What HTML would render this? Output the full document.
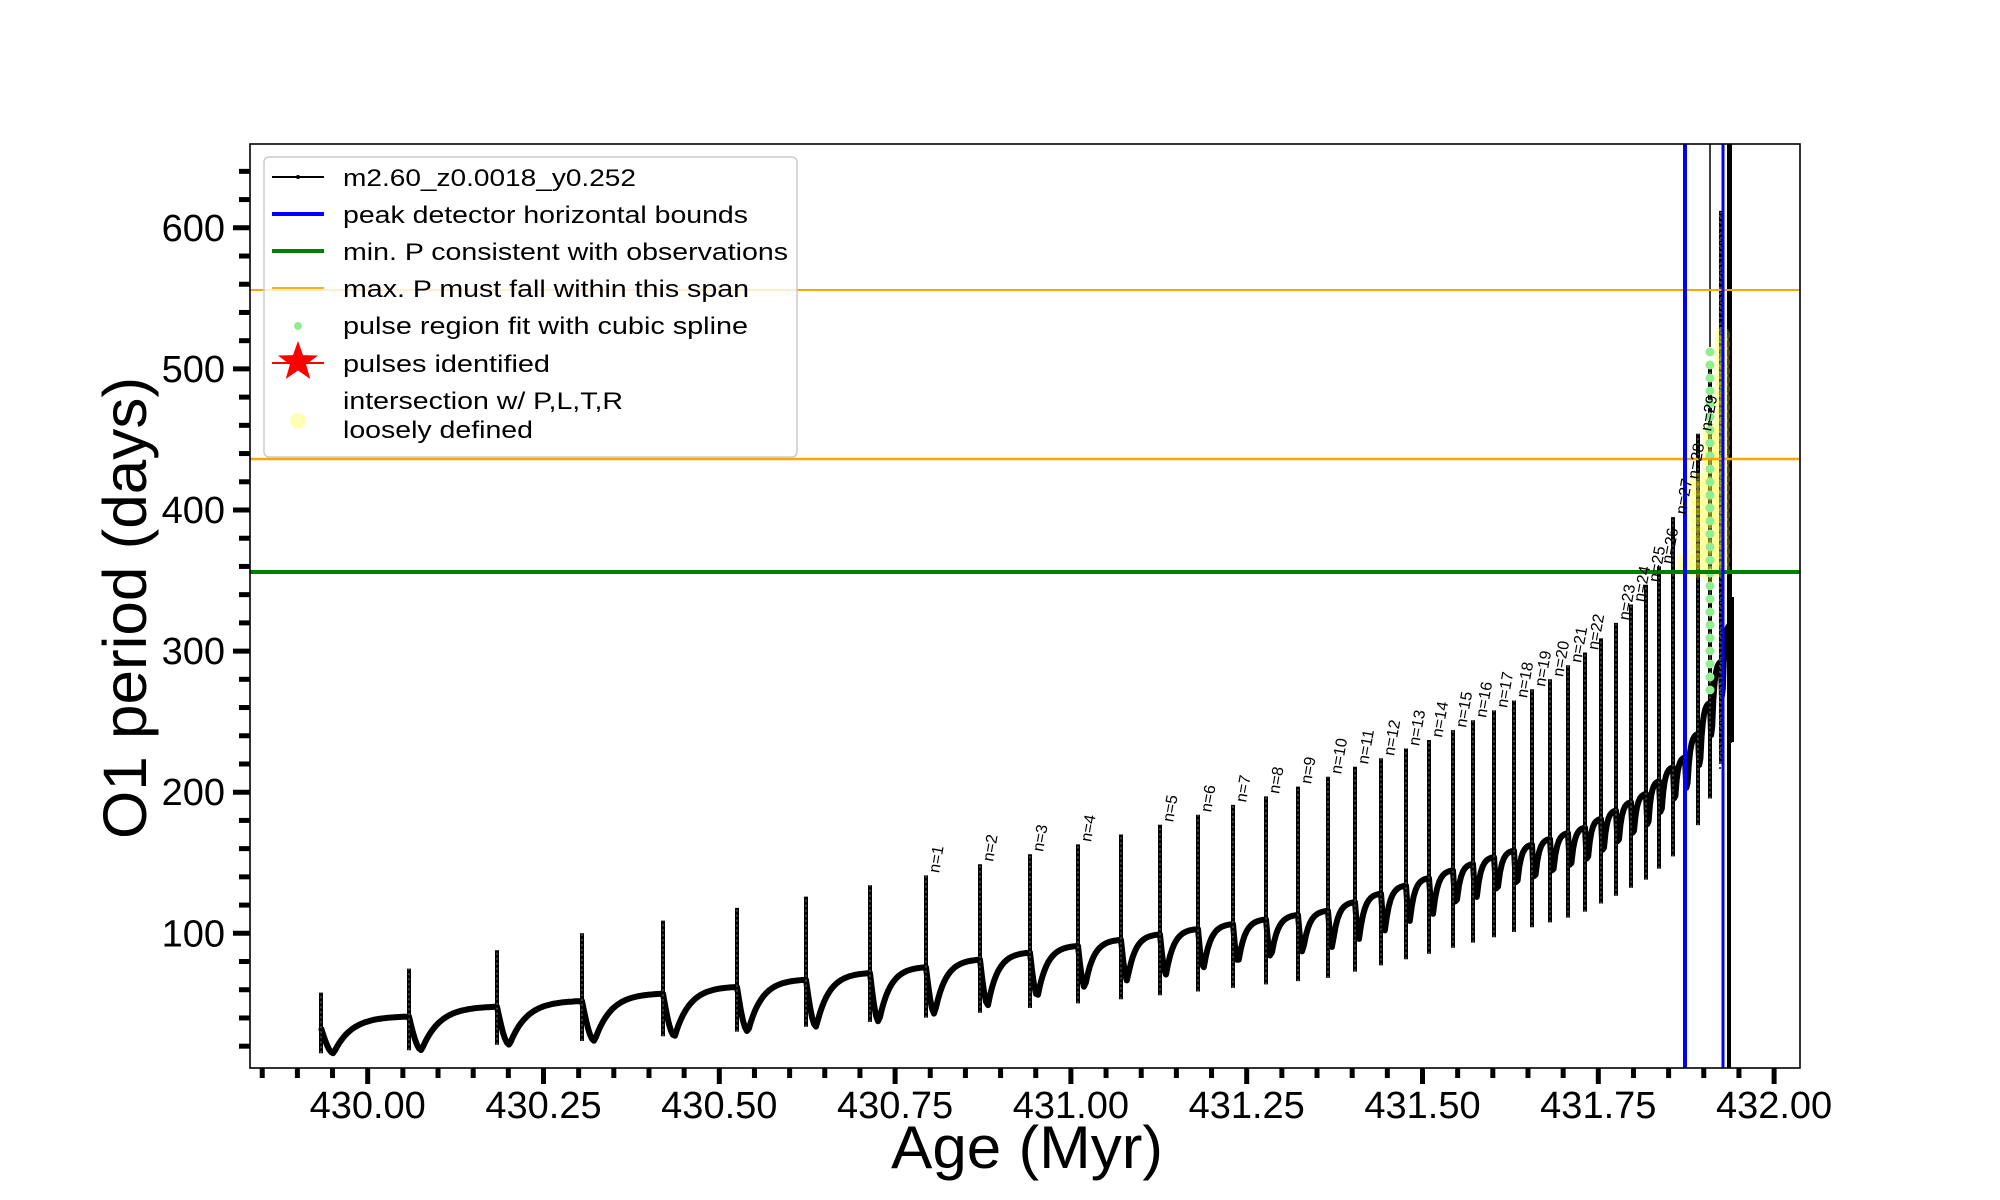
<!DOCTYPE html>
<html><head><meta charset="utf-8">
<style>
html,body{margin:0;padding:0;background:#fff;}
svg{display:block;}
text{font-family:"Liberation Sans","DejaVu Sans",sans-serif;fill:#000;}
</style></head>
<body>
<svg id="s" width="2000" height="1200" viewBox="0 0 2000 1200" xmlns="http://www.w3.org/2000/svg">
<defs><clipPath id="ax"><rect x="250" y="144" width="1550" height="924"/></clipPath></defs>
<rect width="2000" height="1200" fill="#fff"/>
<g id="plot" clip-path="url(#ax)"></g>
<g id="ticks"></g>
<rect x="250" y="144" width="1550" height="924" fill="none" stroke="#000" stroke-width="1.6"/>
<!-- legend -->
<rect x="264" y="157" width="533" height="300" rx="5" fill="#fff" fill-opacity="0.8" stroke="#ccc" stroke-width="1.5"/>
<line x1="272" y1="177" x2="324" y2="177" stroke="#000" stroke-width="2"/>
<circle cx="298" cy="177" r="2" fill="#000"/>
<line x1="272" y1="214" x2="324" y2="214" stroke="#0000ff" stroke-width="4"/>
<line x1="272" y1="251" x2="324" y2="251" stroke="#008000" stroke-width="4"/>
<line x1="272" y1="288" x2="324" y2="288" stroke="#ffa500" stroke-width="1.8"/>
<circle cx="298" cy="326" r="4" fill="#90ee90"/>
<line x1="272" y1="363" x2="324" y2="363" stroke="#ff0000" stroke-width="2"/>
<polygon id="star" fill="#ff0000" points=""/>
<circle cx="298" cy="421" r="8" fill="#ffffb3"/>
<text x="343" y="186" font-size="24" textLength="293" lengthAdjust="spacingAndGlyphs">m2.60_z0.0018_y0.252</text>
<text x="343" y="223" font-size="24" textLength="405" lengthAdjust="spacingAndGlyphs">peak detector horizontal bounds</text>
<text x="343" y="260" font-size="24" textLength="445" lengthAdjust="spacingAndGlyphs">min. P consistent with observations</text>
<text x="343" y="297" font-size="24" textLength="406" lengthAdjust="spacingAndGlyphs">max. P must fall within this span</text>
<text x="343" y="334" font-size="24" textLength="405" lengthAdjust="spacingAndGlyphs">pulse region fit with cubic spline</text>
<text x="343" y="372" font-size="24" textLength="207" lengthAdjust="spacingAndGlyphs">pulses identified</text>
<text x="343" y="409" font-size="24" textLength="280" lengthAdjust="spacingAndGlyphs">intersection w/ P,L,T,R</text>
<text x="343" y="438" font-size="24" textLength="190" lengthAdjust="spacingAndGlyphs">loosely defined</text>
<!-- axis labels -->
<text x="1027" y="1168" font-size="60" text-anchor="middle" textLength="272" lengthAdjust="spacingAndGlyphs">Age (Myr)</text>
<text transform="translate(146,608) rotate(-90)" font-size="61" text-anchor="middle" textLength="462" lengthAdjust="spacingAndGlyphs">O1 period (days)</text>
</svg>
<script>
(function(){
var NS="http://www.w3.org/2000/svg";
function el(p,t,a,txt){var e=document.createElementNS(NS,t);for(var k in a)e.setAttribute(k,a[k]);if(txt!=null)e.textContent=txt;p.appendChild(e);return e;}
function Y(v){return 933.3-(v-100)*1.411;}
function X(a){return 367.7+(a-430)*703.2;}
var plot=document.getElementById('plot'),tk=document.getElementById('ticks');
// star
var pts=[];for(var i=0;i<10;i++){var r=i%2?8.5:21,an=-Math.PI/2+i*Math.PI/5;pts.push((298+r*Math.cos(an)).toFixed(1)+","+(362+r*Math.sin(an)).toFixed(1));}
document.getElementById('star').setAttribute('points',pts.join(' '));
// ticks x
for(var i=-3;i<=40;i++){var x=367.7+i*35.16;if(x<250||x>1800)continue;var maj=(i%5===0);
 el(tk,'line',{x1:x,y1:1068,x2:x,y2:1068+(maj?16:10),stroke:'#000','stroke-width':5});
 if(maj){el(tk,'text',{x:x,y:1118,'font-size':38,'text-anchor':'middle'},(430+i*0.05).toFixed(2));}}
for(var v=20;v<=640;v+=20){var y=Y(v);var maj=(v%100===0);
 el(tk,'line',{x1:250,y1:y,x2:250-(maj?17:11),y2:y,stroke:'#000','stroke-width':5});
 if(maj)el(tk,'text',{x:225,y:y+13,'font-size':38,'text-anchor':'end'},String(v));}
// data
var P=[[321,58],[409,75],[497,88],[582,100],[663,109],[737,118],[806,126],[870,134],[926,141],[980,149],[1030,156],[1078,163],[1121,170],[1160,177],[1198,184],[1233,191],[1266,197],[1298,204],[1328,211],[1355,218],[1381,224],[1406,231],[1429,237],[1453,244],[1473,251],[1494,258],[1514,265],[1532,273],[1550,280],[1568,290],[1585,299],[1601,309],[1616,320],[1631,333],[1646,347],[1659,360],[1673,395],[1685,420],[1698,454],[1710,500],[1721,612],[1730,680]];
function interp(k,x){if(x<=k[0][0])return k[0][1];for(var i=1;i<k.length;i++){if(x<=k[i][0]){var t=(x-k[i-1][0])/(k[i][0]-k[i-1][0]);return k[i-1][1]+t*(k[i][1]-k[i-1][1]);}}return k[k.length-1][1];}
var BK=[[321,35],[409,41],[497,48],[582,52],[737,62],[926,76],[1328,116],[1585,175],[1646,199],[1673,218],[1685,225],[1698,242],[1712,268],[1730,320]];
var DR=[[321,0.4],[926,0.53],[1328,0.59],[1568,0.65],[1673,0.71],[1730,0.76]];
var WK=[[870,0],[1100,0.3],[1400,0.5],[1730,0.6]];
var d="";
var spikes="";
for(var i=0;i<P.length-1;i++){
 var x0=P[i][0],x1=P[i+1][0],w=x1-x0;
 var b0=(i===0)?33:interp(BK,x0-0.5),b1=interp(BK,x1-0.5);
 var dip=b0*interp(DR,x0);if(i===0)dip=15;
 var vmin=dip+(b0-dip)*interp(WK,x0);
 var u0=Math.max(0.05,Math.min(0.16,14/w*0.9));
 var tau=0.2;
 spikes+="M"+x0+" "+Y(dip).toFixed(1)+"V"+Y(P[i][1]).toFixed(1);
 var n=Math.max(10,Math.round(w/2));
 for(var j=0;j<=n;j++){var u=j/n,v;
  if(u<u0){v=b0-(b0-vmin)*Math.sin(Math.PI/2*u/u0);}
  else{var q=(u-u0)/(1-u0);v=vmin+(b1-vmin)*(1-Math.exp(-q*(1-u0)/tau))/(1-Math.exp(-(1-u0)/tau));}
  d+=(j===0&&i===0?"M":"L")+(x0+u*w).toFixed(1)+" "+Y(v).toFixed(1);}
}
var last=P[P.length-1];
spikes+="M"+last[0]+" "+Y(235)+"V"+Y(700);
el(plot,'path',{d:d,fill:'none',stroke:'#000','stroke-width':6,'stroke-linejoin':'round'});
el(plot,'path',{d:spikes,fill:'none',stroke:'#000','stroke-width':4});
el(plot,'path',{d:spikes,fill:'none',stroke:'#555','stroke-width':1.5,'stroke-dasharray':'2 3'});
el(plot,'rect',{x:1729,y:597,width:5,height:145,fill:'#000'});
el(plot,'line',{x1:1710,y1:144,x2:1710,y2:347,stroke:'#000','stroke-width':1.5});
el(plot,'line',{x1:1729,y1:144,x2:1729,y2:1068,stroke:'#000','stroke-width':4});
el(plot,'line',{x1:1720,y1:215,x2:1720,y2:770,stroke:'#444','stroke-width':2,'stroke-dasharray':'2 4'});
// yellow circles
var yc=[[1685,560,575],[1697,480,575],[1710,430,575],[1722,335,575]];
yc.forEach(function(c){for(var y=c[1];y<=c[2];y+=9)el(plot,'circle',{cx:c[0],cy:y,r:8,fill:'#ffff33','fill-opacity':0.3});});
// green dots
for(var y=352;y<=700;y+=13)el(plot,'circle',{cx:1710,cy:y,r:4.5,fill:'#90ee90'});
// horizontal lines
el(plot,'line',{x1:250,y1:290,x2:1800,y2:290,stroke:'#ffa500','stroke-width':2});
el(plot,'line',{x1:250,y1:459,x2:1800,y2:459,stroke:'#ffa500','stroke-width':2.5});
el(plot,'line',{x1:250,y1:572,x2:1800,y2:572,stroke:'#008000','stroke-width':4});
el(plot,'line',{x1:1685,y1:144,x2:1685,y2:1068,stroke:'#0000ff','stroke-width':4});
el(plot,'line',{x1:1723,y1:144,x2:1723,y2:1068,stroke:'#0000ff','stroke-width':3});
// labels
var lab={};for(var k=1;k<=4;k++)lab[k+7]=k;for(var k=5;k<=22;k++)lab[k+8]=k;for(var k=23;k<=29;k++)lab[k+9]=k;
for(var idx in lab){var p=P[idx];var x=p[0]+13,y=Y(p[1])-2;
 el(plot,'text',{transform:'translate('+x+','+y+') rotate(-80)','font-size':16},'n='+lab[idx]);}
})();
</script>
</body></html>
